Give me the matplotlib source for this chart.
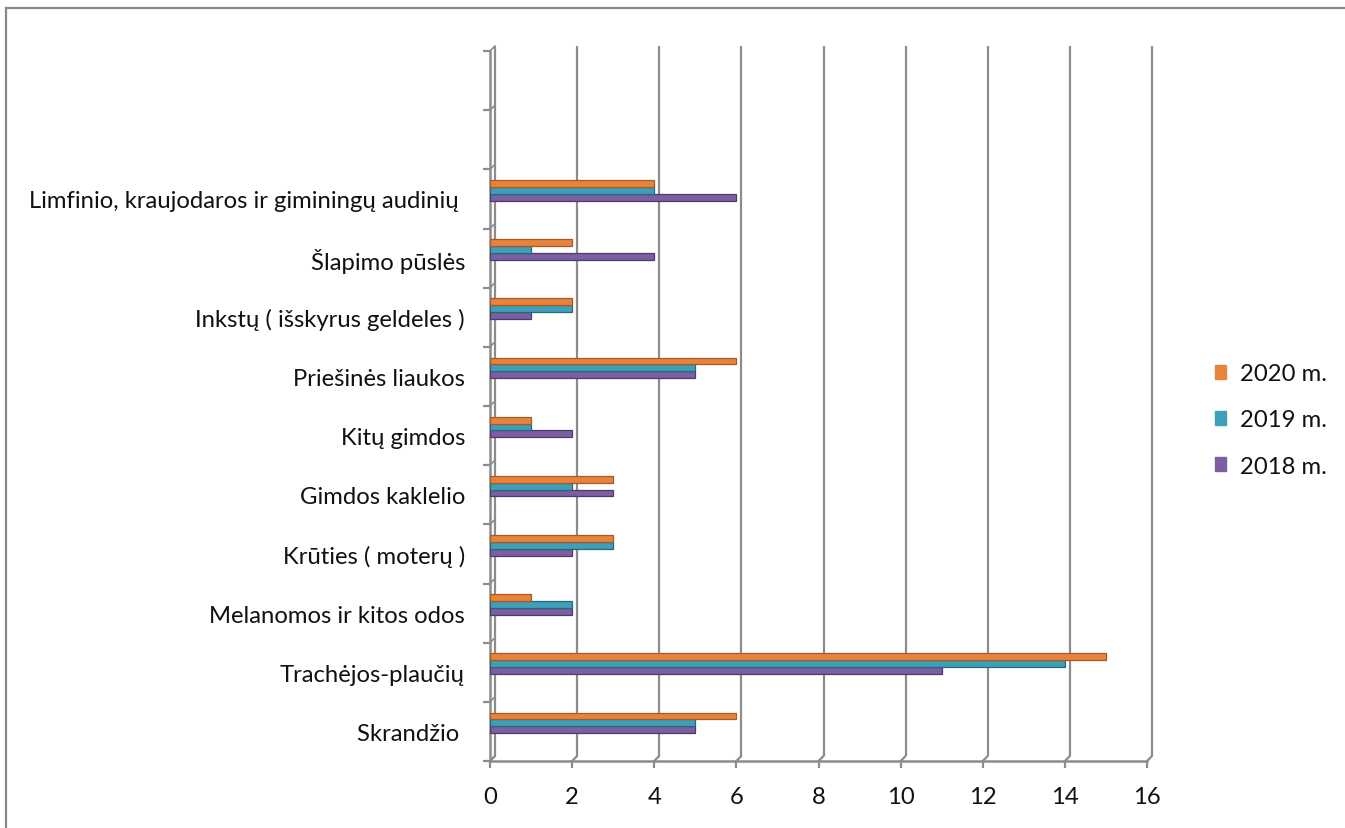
import matplotlib
matplotlib.use("Agg")
import matplotlib.pyplot as plt
from matplotlib.transforms import offset_copy
from matplotlib.patches import ConnectionPatch, Patch
from matplotlib.lines import Line2D
import numpy as np

plt.rcParams['font.family'] = ['Lato', 'DejaVu Sans']

categories = [
    "Skrandžio ",
    "Trachėjos-plaučių",
    "Melanomos ir kitos odos",
    "Krūties ( moterų )",
    "Gimdos kaklelio",
    "Kitų gimdos",
    "Priešinės liaukos",
    "Inkstų ( išskyrus geldeles )",
    "Šlapimo pūslės",
    "Limfinio, kraujodaros ir giminingų audinių ",
]
series_names = ["2018 m.", "2019 m.", "2020 m."]
v2018 = [5, 11, 2, 2, 3, 2, 5, 1, 4, 6]
v2019 = [5, 14, 2, 3, 2, 1, 5, 2, 1, 4]
v2020 = [6, 15, 1, 3, 3, 1, 6, 2, 2, 4]
xticks = [0, 2, 4, 6, 8, 10, 12, 14, 16]
n_slots = 12

colors = ["#7B5FA1", "#3E9FB8", "#E7843B"]
edges = ["#4F3A6E", "#25697A", "#A85A24"]
grid_c = "#8C8C8C"
txt_c = "#111111"
FS = 17.2

W, H = 1345, 829
fig = plt.figure(figsize=(W / 100, H / 100), dpi=100)
fig.patch.set_facecolor("white")

x0, x1 = 490, 1147
yb, yt = 762, 52
ax = fig.add_axes([x0 / W, 1 - yb / H, (x1 - x0) / W, (yb - yt) / H])
ax.set_xlim(0, 16)
ax.set_ylim(0, n_slots)
ax.patch.set_alpha(0)

# back wall (3D depth offset)
tr = offset_copy(ax.transData, fig=fig, x=5, y=5, units='dots')
for xv in xticks:
    ax.plot([xv, xv], [0, n_slots], transform=tr, color=grid_c, lw=1.6,
            clip_on=False, zorder=1, solid_capstyle='butt')
    cp = ConnectionPatch(xyA=(xv, 0), coordsA=ax.transData, xyB=(xv, 0),
                         coordsB=tr, color=grid_c, lw=1.6, zorder=1)
    fig.add_artist(cp)
for yv in range(n_slots + 1):
    cp = ConnectionPatch(xyA=(0, yv), coordsA=ax.transData, xyB=(0, yv),
                         coordsB=tr, color=grid_c, lw=1.2, zorder=1)
    fig.add_artist(cp)

# bars
offsets = [0.53, 0.645, 0.76]
bh = 0.115
idx = np.arange(len(categories))
for vals, off, c, ec, name in zip([v2018, v2019, v2020], offsets, colors, edges, series_names):
    ax.barh(idx + off, vals, height=bh, color=c, edgecolor=ec, linewidth=0.9,
            zorder=3, label=name)

# spines
for s in ["top", "right"]:
    ax.spines[s].set_visible(False)
for s in ["left", "bottom"]:
    ax.spines[s].set_color(grid_c)
    ax.spines[s].set_linewidth(1.8)
    ax.spines[s].set_zorder(2)

ax.set_xticks(xticks)
ax.set_xticklabels([str(t) for t in xticks])
ax.tick_params(axis='x', length=5, width=1.6, color=grid_c, direction='out',
               pad=13, labelsize=FS, labelcolor=txt_c)

ax.set_yticks(np.arange(n_slots + 1))
ax.set_yticklabels([])
ax.set_yticks(idx + 0.5, minor=True)
ax.set_yticklabels(categories, minor=True)
ax.tick_params(axis='y', which='major', length=5, width=1.6, color=grid_c, direction='out')
ax.tick_params(axis='y', which='minor', length=0, pad=18, labelsize=FS, labelcolor=txt_c)

# legend
handles = [Patch(facecolor=colors[i], edgecolor=colors[i]) for i in [2, 1, 0]]
labels = [series_names[i] for i in [2, 1, 0]]
fig.legend(handles, labels, loc='center left', bbox_to_anchor=(1193 / W, 1 - 421 / H),
           frameon=False, fontsize=FS, handlelength=0.5, handleheight=0.5,
           handletextpad=0.55, labelspacing=1.05, labelcolor=txt_c)

# outer border (top and left)
fig.add_artist(Line2D([6 / W, 1], [1 - 9 / H, 1 - 9 / H], transform=fig.transFigure,
                      color="#8a8a8a", lw=1.6))
fig.add_artist(Line2D([6 / W, 6 / W], [0, 1 - 9 / H], transform=fig.transFigure,
                      color="#8a8a8a", lw=1.6))

fig.savefig("out.png", dpi=100, facecolor="white")
